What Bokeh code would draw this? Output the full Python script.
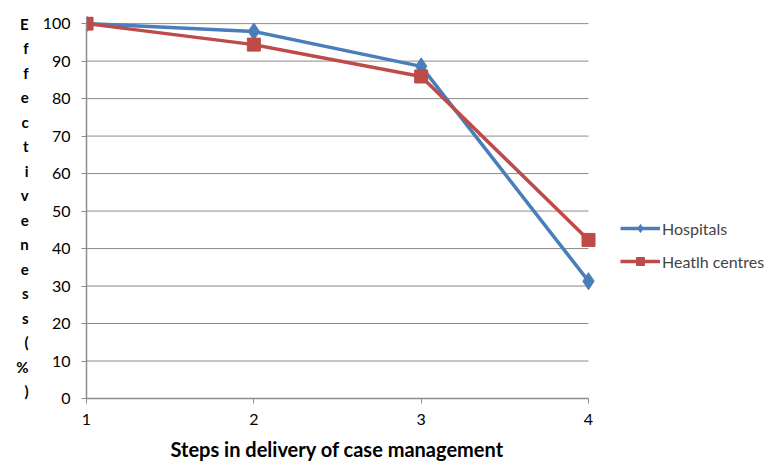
from bokeh.plotting import figure
from bokeh.models import Legend, LegendItem, FixedTicker, Title
from bokeh.embed import file_html
from bokeh.resources import INLINE

steps = [1, 2, 3, 4]
hospitals = [100, 97.9, 88.6, 31.3]
health_centres = [100, 94.4, 85.9, 42.3]
y_ticks = list(range(0, 101, 10))
ylabel_chars = list("Effectiveness") + ["(", "%", ")"]
x_title = "Steps in delivery of case management"

BLUE = "#4A7EBB"
RED = "#BE4B48"
GRID = "#8C8C8C"
FONT = "Lato"
W, H = 771, 467
FRAME_L, FRAME_R_DATA = 86, 588   # pixel position of x=1 and x=4
Y_TOP = 101.9                     # headroom so the top markers are not cut

x_end = steps[0] + (W - FRAME_L) * (steps[-1] - steps[0]) / (FRAME_R_DATA - FRAME_L)

p = figure(width=W, height=H, output_backend="svg", toolbar_location=None,
           x_range=(steps[0], x_end), y_range=(0, Y_TOP),
           min_border_left=FRAME_L, min_border_right=0, min_border_top=16,
           min_border_bottom=H - 399)
p.outline_line_color = None

p.xgrid.grid_line_color = None
p.ygrid.grid_line_color = None
p.segment(x0=[steps[0]] * len(y_ticks), x1=[steps[-1]] * len(y_ticks),
          y0=y_ticks, y1=y_ticks, line_color=GRID, line_width=1)

p.yaxis.ticker = FixedTicker(ticks=y_ticks)
p.yaxis.bounds = (0, 100)
p.xaxis.ticker = FixedTicker(ticks=steps)
p.xaxis.bounds = (steps[0], steps[-1])
for ax in (p.xaxis, p.yaxis):
    ax.axis_line_color = GRID
    ax.axis_line_width = 1.5
    ax.major_tick_line_color = GRID
    ax.major_tick_out = 5
    ax.major_tick_in = 0
    ax.minor_tick_line_color = None
    ax.major_label_text_font = FONT
    ax.major_label_text_font_size = "16px"
    ax.major_label_text_color = "#000000"
p.yaxis.major_label_standoff = 11
p.xaxis.major_label_standoff = 10

# x title, centred under the plotted steps
t = Title(text=x_title, align="left", offset=170 - FRAME_L, standoff=14,
          text_font=FONT, text_font_style="bold", text_font_size="20px",
          text_color="#000000")
p.add_layout(t, "below")

# stacked (one character per line) y-axis title
p.yaxis.axis_label = "\n".join(ylabel_chars)
p.yaxis.axis_label_text_font = FONT
p.yaxis.axis_label_text_font_style = "bold"
p.yaxis.axis_label_text_font_size = "15px"
p.yaxis.axis_label_text_color = "#000000"
p.yaxis.axis_label_text_line_height = 1.36
p.yaxis.axis_label_text_align = "center"
p.yaxis.axis_label_standoff = 11
try:
    p.yaxis.axis_label_orientation = "horizontal"
except Exception:
    pass

r1l = p.line(steps, hospitals, line_color=BLUE, line_width=3.5)
r1m = p.scatter(steps, hospitals, marker="diamond", size=17,
                fill_color=BLUE, line_color=BLUE)
r2l = p.line(steps, health_centres, line_color=RED, line_width=3.5)
r2m = p.scatter(steps, health_centres, marker="square", size=13, fill_color=RED, line_color=RED)

legend = Legend(items=[LegendItem(label="Hospitals", renderers=[r1l, r1m]),
                       LegendItem(label="Heatlh centres", renderers=[r2l, r2m])],
                location=(620 - FRAME_L, 399 - 272))
legend.border_line_color = None
legend.background_fill_alpha = 0
legend.padding = 0
legend.margin = 0
legend.label_text_font = FONT
legend.label_text_font_size = "16px"
legend.glyph_width = 40
legend.glyph_height = 20
legend.spacing = 13
legend.label_standoff = 2
p.add_layout(legend, "center")

open("out.html", "w").write(file_html(p, INLINE))
